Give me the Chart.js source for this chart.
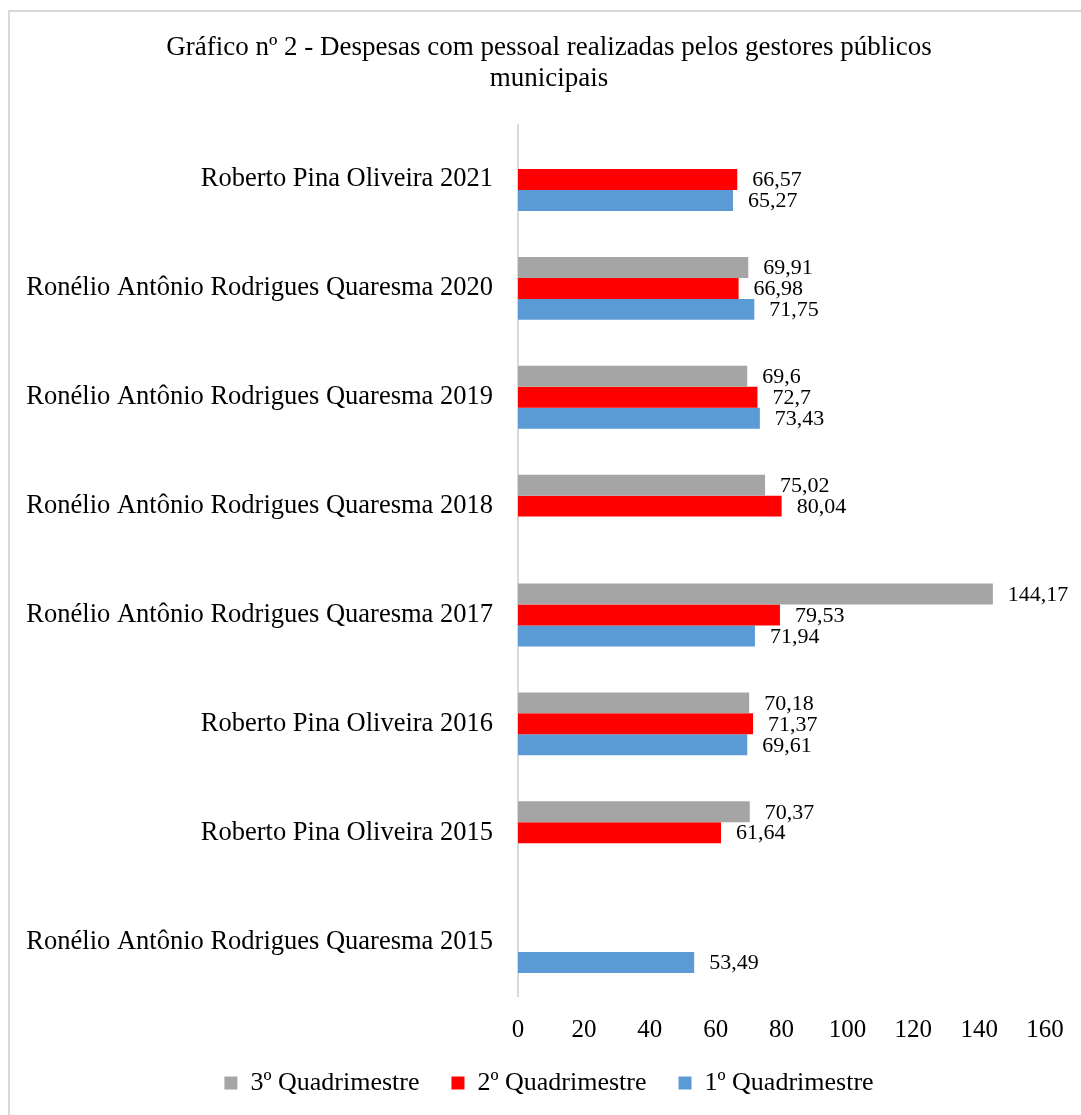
<!DOCTYPE html>
<html>
<head>
<meta charset="utf-8">
<script src="https://cdn.jsdelivr.net/npm/chart.js@4.4.0/dist/chart.umd.min.js"></script>
<style>
  html, body { margin: 0; padding: 0; background: #fff; overflow: hidden; }
  #frame { position: absolute; left: 8px; top: 10px; width: 1078px; height: 1120px; border: 2px solid #d9d9d9; background: #fff; }
  canvas { display: block; }
</style>
</head>
<body>
<div id="frame"><canvas id="c" width="1078" height="1115"></canvas></div>
<script>
const titleLines = ["Gráfico nº 2 - Despesas com pessoal realizadas pelos gestores públicos", "municipais"];
const categories = [
  "Roberto Pina Oliveira 2021",
  "Ronélio Antônio Rodrigues Quaresma 2020",
  "Ronélio Antônio Rodrigues Quaresma 2019",
  "Ronélio Antônio Rodrigues Quaresma 2018",
  "Ronélio Antônio Rodrigues Quaresma 2017",
  "Roberto Pina Oliveira 2016",
  "Roberto Pina Oliveira 2015",
  "Ronélio Antônio Rodrigues Quaresma 2015"
];
const seriesNames = ["3º Quadrimestre", "2º Quadrimestre", "1º Quadrimestre"];
const q3 = [null, 69.91, 69.6, 75.02, 144.17, 70.18, 70.37, null];
const q2 = [66.57, 66.98, 72.7, 80.04, 79.53, 71.37, 61.64, null];
const q1 = [65.27, 71.75, 73.43, null, 71.94, 69.61, null, 53.49];
const xTicks = [0, 20, 40, 60, 80, 100, 120, 140, 160];
const colors = ["#A5A5A5", "#FF0000", "#5B9BD5"];

const FONT = "'Liberation Serif', 'Times New Roman', serif";

const valueLabels = {
  id: 'valueLabels',
  afterLayout(chart) {
    // widen the label clip region of the x axis so tick labels are not cut
    chart.scales.x.bottom += 20;
  },
  afterDatasetsDraw(chart) {
    const ctx = chart.ctx;
    ctx.save();
    ctx.font = "22px " + FONT;
    ctx.fillStyle = "#000";
    ctx.textAlign = "left";
    ctx.textBaseline = "middle";
    chart.data.datasets.forEach((ds, di) => {
      const meta = chart.getDatasetMeta(di);
      meta.data.forEach((el, i) => {
        const v = ds.data[i];
        if (v === null || v === undefined) return;
        ctx.fillText(String(v).replace('.', ','), el.x + 15, el.y + 1);
      });
    });
    ctx.restore();
  }
};

new Chart(document.getElementById('c'), {
  type: 'bar',
  data: {
    labels: categories,
    datasets: [
      { label: seriesNames[0], data: q3, backgroundColor: colors[0] },
      { label: seriesNames[1], data: q2, backgroundColor: colors[1] },
      { label: seriesNames[2], data: q1, backgroundColor: colors[2] }
    ]
  },
  options: {
    indexAxis: 'y',
    responsive: false,
    animation: false,
    events: [],
    datasets: { bar: { barPercentage: 1.0, categoryPercentage: 0.578 } },
    layout: { padding: { left: 0, right: 0, top: 0, bottom: 21 } },
    plugins: {
      title: {
        display: true,
        text: titleLines,
        color: '#000',
        font: { family: FONT, size: 27, weight: 'normal', lineHeight: 1.15 },
        padding: { top: 20, bottom: 31 }
      },
      legend: {
        position: 'bottom',
        labels: {
          color: '#000',
          font: { family: FONT, size: 26 },
          boxWidth: 13,
          boxHeight: 13,
          padding: 32
        }
      },
      tooltip: { enabled: false }
    },
    scales: {
      x: {
        min: 0,
        max: 160,
        afterBuildTicks(scale) { scale.ticks = xTicks.map(v => ({ value: v })); },
        afterFit(scale) { scale.height = 42; scale.paddingRight = 43; },
        grid: { display: false },
        border: { display: false },
        ticks: { color: '#000', font: { family: FONT, size: 25, lineHeight: 1 }, padding: 14 }
      },
      y: {
        afterFit(scale) { scale.width = 508; },
        grid: { display: true, drawOnChartArea: false, drawTicks: false, color: 'rgba(0,0,0,0)' },
        border: { display: true, color: '#d9d9d9', width: 2 },
        ticks: { color: '#000', font: { family: FONT, size: 26.5 }, padding: 25 }
      }
    }
  },
  plugins: [valueLabels]
});
</script>
</body>
</html>
